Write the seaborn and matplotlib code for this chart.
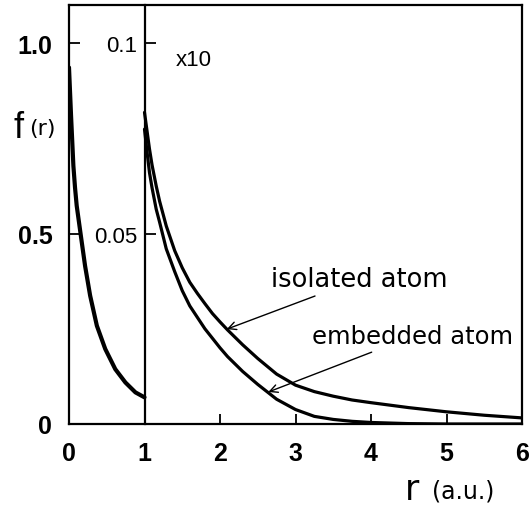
import numpy as np
import pandas as pd
import matplotlib
matplotlib.use("Agg")
import matplotlib.pyplot as plt
import seaborn as sns

# ---- data ----
r_inner = [0.0, 0.027, 0.058, 0.08, 0.102, 0.16, 0.213, 0.28, 0.369, 0.48, 0.613, 0.747, 0.88, 1.0]
f_inner = [0.936, 0.81, 0.678, 0.62, 0.573, 0.49, 0.415, 0.337, 0.258, 0.197, 0.144, 0.109, 0.083, 0.070]

r_outer = [1.0, 1.033, 1.066, 1.1, 1.155, 1.2, 1.288, 1.4, 1.5, 1.6, 1.7, 1.8, 1.9, 2.0, 2.1,
           2.3, 2.5, 2.75, 3.0, 3.25, 3.5, 3.75, 4.0, 4.5, 5.0, 5.5, 6.0]
f_isolated = [0.0818, 0.077, 0.0722, 0.068, 0.0625, 0.0585, 0.052, 0.0455, 0.041, 0.0372,
              0.0343, 0.0316, 0.029, 0.0268, 0.0247, 0.0208, 0.0172, 0.0131, 0.0102, 0.0085,
              0.0073, 0.0063, 0.0056, 0.0043, 0.0032, 0.0023, 0.0016]
f_embedded = [0.0774, 0.0715, 0.066, 0.062, 0.0564, 0.053, 0.046, 0.040, 0.035, 0.031,
              0.028, 0.025, 0.0225, 0.020, 0.0177, 0.0138, 0.0104, 0.0065, 0.0038, 0.0020,
              0.0012, 0.0007, 0.0004, 0.0001, 0.0, 0.0, 0.0]
scale_outer = 10

x_ticks = [0, 1, 2, 3, 4, 5, 6]
y_ticks = [0, 0.5, 1.0]
y_ticklabels = ["0", "0.5", "1.0"]
y2_ticks = [0.05, 0.1]
y2_ticklabels = ["0.05", "0.1"]

df_in = pd.DataFrame({"r": r_inner, "f": f_inner})
df_iso = pd.DataFrame({"r": r_outer, "f": np.array(f_isolated) * scale_outer})
df_emb = pd.DataFrame({"r": r_outer, "f": np.array(f_embedded) * scale_outer})

sns.set_style("white")
plt.rcParams["font.family"] = ["DejaVu Sans"]
plt.rcParams["text.color"] = "black"
plt.rcParams["xtick.color"] = "black"
plt.rcParams["ytick.color"] = "black"
plt.rcParams["axes.labelcolor"] = "black"

fig = plt.figure(figsize=(5.29, 5.06), dpi=100)
ax = fig.add_axes([69 / 529, 1 - 425 / 506, (522 - 69) / 529, (425 - 6) / 506])

sns.lineplot(data=df_in, x="r", y="f", ax=ax, color="black", lw=3.0)
sns.lineplot(data=df_iso, x="r", y="f", ax=ax, color="black", lw=2.3)
sns.lineplot(data=df_emb, x="r", y="f", ax=ax, color="black", lw=2.3)

ax.set_xlim(0, 6)
ax.set_ylim(0, 1.1)
ax.set_xlabel("")
ax.set_ylabel("")
for s in ax.spines.values():
    s.set_linewidth(1.6)
    s.set_color("black")

tick_font = dict(family="Liberation Sans", weight="bold", size=18)
ax.set_xticks(x_ticks)
ax.set_xticklabels([str(v) for v in x_ticks], fontdict=tick_font)
ax.set_yticks(y_ticks)
ax.set_yticklabels(y_ticklabels, fontdict=tick_font)
ax.tick_params(axis="x", direction="in", length=7, width=1.3, pad=12, bottom=True,
               colors="black")
ax.tick_params(axis="y", direction="in", length=8, width=1.3, pad=12, left=True,
               colors="black")

# secondary scale at r = 1 (x10 region)
sec = ax.secondary_yaxis(1 / 6, functions=(lambda y: y / scale_outer, lambda y: y * scale_outer))
sec.set_yticks(y2_ticks)
sec.set_yticklabels(y2_ticklabels, fontdict=dict(family="Liberation Sans", size=16))
sec.tick_params(axis="y", direction="in", length=8, width=1.3, pad=5, colors="black")
sec.spines["left"].set_linewidth(1.6)
sec.spines["left"].set_color("black")

ax.text(1.42, 0.958, "x10", fontsize=16, family="Liberation Sans", ha="left", va="center",
        color="black")

ax.annotate("isolated atom", xy=(2.09, 0.249), xytext=(2.68, 0.38),
            fontsize=18.5, ha="left", va="center", color="black",
            arrowprops=dict(arrowstyle="->", color="black", lw=1.0, shrinkA=1, shrinkB=0,
                            mutation_scale=14))
ax.annotate("embedded atom", xy=(2.64, 0.084), xytext=(3.22, 0.23),
            fontsize=17.5, ha="left", va="center", color="black",
            arrowprops=dict(arrowstyle="->", color="black", lw=1.0, shrinkA=1, shrinkB=0,
                            mutation_scale=14))

fig.text(19 / 529, 1 - 128 / 506, "f", fontsize=26, family="Liberation Sans",
         ha="center", va="center", color="black")
fig.text(42 / 529, 1 - 129 / 506, "(r)", fontsize=16, ha="center", va="center", color="black")
fig.text(412 / 529, 1 - 490 / 506, "r", fontsize=25, ha="center", va="center", color="black")
fig.text(463 / 529, 1 - 492 / 506, "(a.u.)", fontsize=17, ha="center", va="center",
         color="black")

fig.savefig("out.png", dpi=100)
